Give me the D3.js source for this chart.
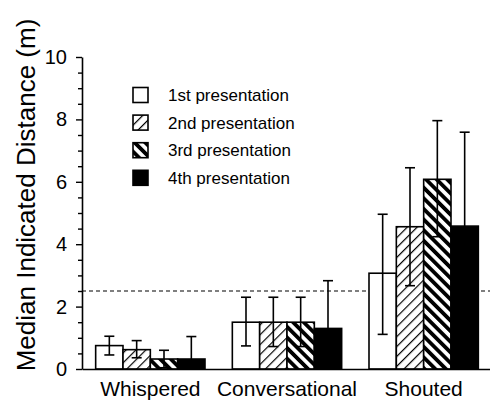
<!DOCTYPE html>
<html>
<head>
<meta charset="utf-8">
<script src="https://cdn.jsdelivr.net/npm/d3@7"></script>
<style>
  body { margin: 0; background: #fff; }
  svg { display: block; font-family: "Liberation Sans", Arial, Helvetica, sans-serif; }
</style>
</head>
<body>
<svg id="chart"></svg>
<script>
// chart data
const categories = ['Whispered', 'Conversational', 'Shouted'];
const presentations = ['1st presentation', '2nd presentation', '3rd presentation', '4th presentation'];

const median1 = [0.75, 1.50, 3.07];
const median2 = [0.62, 1.50, 4.56];
const median3 = [0.32, 1.50, 6.08];
const median4 = [0.32, 1.30, 4.58];

const errHigh1 = [1.05, 2.30, 4.96];
const errLow1  = [0.45, 0.74, 1.11];
const errHigh2 = [0.91, 2.30, 6.45];
const errLow2  = [0.36, 0.72, 2.67];
const errHigh3 = [0.60, 2.30, 7.96];
const errLow3  = [0.04, 0.72, 4.24];
const errHigh4 = [1.04, 2.83, 7.59];
const errLow4  = [0.00, 0.00, 1.57];

const yTicks = [0, 2, 4, 6, 8, 10];
const refLine = 2.5;

const medians = [median1, median2, median3, median4];
const errHigh = [errHigh1, errHigh2, errHigh3, errHigh4];
const errLow = [errLow1, errLow2, errLow3, errLow4];
const fills = ['#fff', 'url(#hatchThin)', 'url(#hatchThick)', '#000'];

function createChart() {
    const width = 490;
    const height = 403;

    const svg = d3.select('#chart')
                  .attr('width', width)
                  .attr('height', height);

    // hatch patterns
    const defs = svg.append('defs');
    defs.append('pattern')
        .attr('id', 'hatchThin')
        .attr('patternUnits', 'userSpaceOnUse')
        .attr('width', 7)
        .attr('height', 7)
        .attr('patternTransform', 'rotate(45)')
        .call(p => {
            p.append('rect').attr('width', 7).attr('height', 7).attr('fill', '#fff');
            p.append('line').attr('x1', 0).attr('y1', 0).attr('x2', 0).attr('y2', 7)
             .attr('stroke', '#000').attr('stroke-width', 2.4);
        });
    defs.append('pattern')
        .attr('id', 'hatchThick')
        .attr('patternUnits', 'userSpaceOnUse')
        .attr('width', 7.5)
        .attr('height', 7.5)
        .attr('patternTransform', 'rotate(-45)')
        .call(p => {
            p.append('rect').attr('width', 7.5).attr('height', 7.5).attr('fill', '#fff');
            p.append('rect').attr('width', 3.8).attr('height', 7.5).attr('fill', '#000');
        });

    const x0 = d3.scaleBand()
                 .domain(categories)
                 .range([82, 492])
                 .paddingInner(0.2)
                 .paddingOuter(0.1);

    const x1 = d3.scaleBand()
                 .domain(presentations)
                 .range([0, x0.bandwidth()]);

    const y = d3.scaleLinear()
                .domain([0, 10])
                .range([369, 57]);

    // reference line
    svg.append('line')
       .attr('x1', 82)
       .attr('x2', width)
       .attr('y1', y(refLine))
       .attr('y2', y(refLine))
       .attr('stroke', '#000')
       .attr('stroke-width', 1.2)
       .attr('stroke-dasharray', '4,3');

    // bars
    presentations.forEach((p, i) => {
        const g = svg.append('g');
        g.selectAll('rect')
         .data(categories)
         .enter()
         .append('rect')
         .attr('x', c => x0(c) + x1(p))
         .attr('y', (c, j) => y(medians[i][j]))
         .attr('width', x1.bandwidth())
         .attr('height', (c, j) => y(0) - y(medians[i][j]))
         .attr('fill', fills[i])
         .attr('stroke', '#000')
         .attr('stroke-width', 1.6);
    });

    // error bars
    const cap = 5;
    presentations.forEach((p, i) => {
        categories.forEach((c, j) => {
            const cx = x0(c) + x1(p) + x1.bandwidth() / 2;
            const g = svg.append('g')
                         .attr('stroke', '#000')
                         .attr('stroke-width', 1.6);
            g.append('line')
             .attr('x1', cx).attr('x2', cx)
             .attr('y1', y(errLow[i][j])).attr('y2', y(errHigh[i][j]));
            g.append('line')
             .attr('x1', cx - cap).attr('x2', cx + cap)
             .attr('y1', y(errHigh[i][j])).attr('y2', y(errHigh[i][j]));
            if (errLow[i][j] > 0) {
                g.append('line')
                 .attr('x1', cx - cap).attr('x2', cx + cap)
                 .attr('y1', y(errLow[i][j])).attr('y2', y(errLow[i][j]));
            }
        });
    });

    // Y axis: minor ticks then major ticks
    const minorTicks = d3.range(0, 10.01, 0.5).filter(v => v % 2 !== 0);
    svg.append('g')
       .attr('transform', 'translate(82,0)')
       .call(d3.axisLeft(y).tickValues(minorTicks).tickSize(4).tickSizeOuter(0).tickFormat(''))
       .call(g => g.select('.domain').remove())
       .selectAll('line').attr('stroke-width', 1.4);

    svg.append('g')
       .attr('transform', 'translate(82,0)')
       .call(d3.axisLeft(y).tickValues(yTicks).tickSize(6).tickSizeOuter(0).tickPadding(9))
       .call(g => g.select('.domain').attr('stroke-width', 1.6))
       .call(g => g.selectAll('line').attr('stroke-width', 1.4))
       .selectAll('text')
       .style('font-size', '20px')
       .attr('fill', '#000');

    // X axis
    svg.append('g')
       .attr('transform', `translate(0,${y(0)})`)
       .call(d3.axisBottom(x0).tickSize(0).tickSizeOuter(0).tickPadding(12))
       .call(g => g.select('.domain').attr('stroke-width', 1.6))
       .selectAll('text')
       .style('font-size', '21px')
       .attr('fill', '#000');

    // Y axis label
    svg.append('text')
       .attr('transform', 'rotate(-90)')
       .attr('x', -195)
       .attr('y', 35)
       .style('text-anchor', 'middle')
       .style('font-size', '26px')
       .text('Median Indicated Distance (m)');

    // legend
    presentations.forEach((p, i) => {
        const ly = 95 + i * 27.6;
        svg.append('rect')
           .attr('x', 133)
           .attr('y', ly - 7.5)
           .attr('width', 15)
           .attr('height', 15)
           .attr('fill', fills[i])
           .attr('stroke', '#000')
           .attr('stroke-width', 1.6);
        svg.append('text')
           .attr('x', 168)
           .attr('y', ly + 6)
           .style('font-size', '17px')
           .text(p);
    });
}

document.addEventListener('DOMContentLoaded', createChart);
</script>
</body>
</html>
